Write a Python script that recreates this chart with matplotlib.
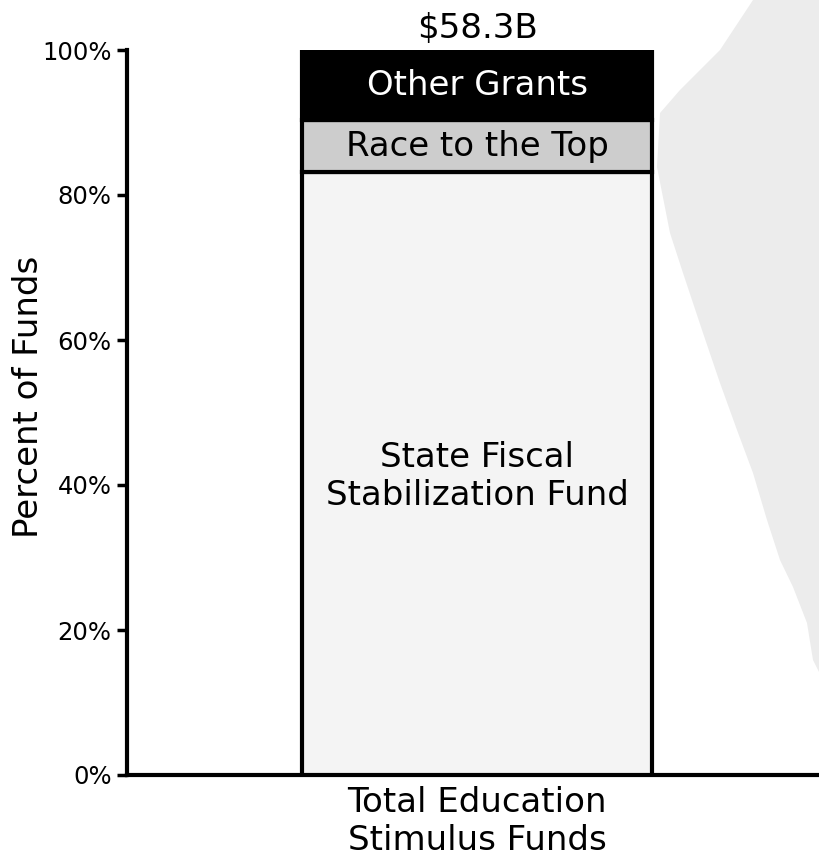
import matplotlib
matplotlib.use("Agg")
import matplotlib.pyplot as plt
from matplotlib.patches import Polygon

categories = ["Total Education\nStimulus Funds"]
segments = ["State Fiscal\nStabilization Fund", "Race to the Top", "Other Grants"]
values = [83.2, 7.1, 9.7]
total_label = "$58.3B"
yticks = [0, 20, 40, 60, 80, 100]
ytick_labels = ["0%", "20%", "40%", "60%", "80%", "100%"]

fill_colors = ["#f4f4f4", "#cdcdcd", "#000000"]
text_colors = ["black", "black", "white"]

plt.rcParams['font.family'] = ['DejaVu Sans']

W, H = 819, 859
fig = plt.figure(figsize=(W / 100, H / 100), dpi=100)
ax = fig.add_axes([127 / W, (H - 775) / H, 1 - 127 / W, (775 - 50) / H])

# faint dithered-looking background shape at right (scan artifact)
shape_px = [(753, 0), (720, 50), (680, 90), (660, 113), (657, 167), (670, 233),
            (683, 273), (703, 333), (720, 383), (737, 430), (753, 473), (767, 520),
            (780, 560), (793, 587), (807, 623), (813, 660), (819, 672), (819, 0)]
poly = Polygon([(px / W, 1 - py / H) for px, py in shape_px], closed=True,
               transform=fig.transFigure, facecolor="#ececec", edgecolor="none", zorder=0)
fig.patches.append(poly)
ax.patch.set_alpha(0)

x = [0]
bottom = 0
for seg, v, fc, tc in zip(segments, values, fill_colors, text_colors):
    ax.bar(x, [v], width=1.0, bottom=[bottom], color=fc, edgecolor="black",
           linewidth=3, zorder=3)
    ypos = bottom + v / 2
    if seg.startswith("State"):
        ypos = 41.2
    ax.text(0, ypos, seg, ha="center", va="center", color=tc, fontsize=24.5,
            zorder=4, linespacing=1.2)
    bottom += v

ax.text(0, bottom + 3.0, total_label, ha="center", va="center", fontsize=24.5)

ax.set_xlim(-1.0, 0.976)
ax.set_ylim(0, 100)
ax.set_xticks(x)
ax.set_xticklabels(categories, fontsize=24.5, linespacing=1.2)
ax.tick_params(axis="x", length=0, pad=8)
ax.set_yticks(yticks)
ax.set_yticklabels(ytick_labels, fontsize=17.5)
ax.tick_params(axis="y", length=7, width=2.5, direction="out", pad=4)
ax.set_ylabel("Percent of Funds", fontsize=24.5)
ax.yaxis.set_label_coords(-0.118, 0.521)

for s in ["top", "right"]:
    ax.spines[s].set_visible(False)
for s in ["left", "bottom"]:
    ax.spines[s].set_linewidth(3)

fig.savefig("out.png", dpi=100)
